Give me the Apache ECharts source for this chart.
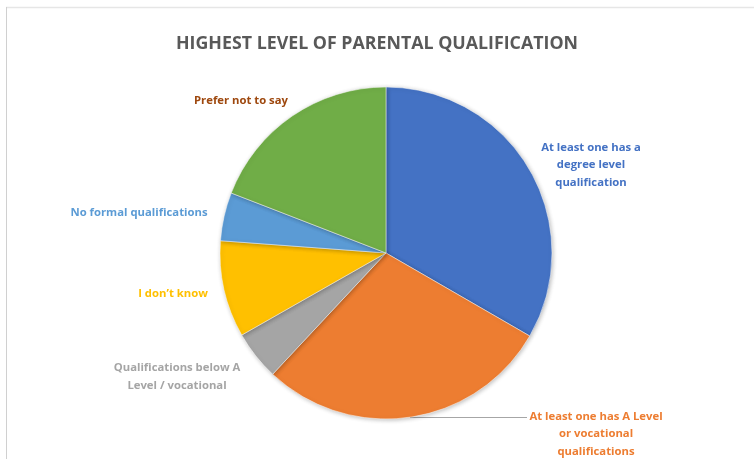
<!DOCTYPE html>
<html>
<head>
<meta charset="utf-8">
<script src="https://cdn.jsdelivr.net/npm/echarts@6/dist/echarts.min.js"></script>
<style>html,body{margin:0;padding:0;background:#fff}#c{width:754px;height:459px}</style>
</head>
<body>
<div id="c"></div>
<script>
const categories = [
  'At least one has a\ndegree level\nqualification',
  'At least one has A Level\nor vocational\nqualifications',
  'Qualifications below A\nLevel / vocational',
  'I don\u2019t know',
  'No formal qualifications',
  'Prefer not to say'
];
const values = [33.3, 28.6, 4.8, 9.4, 4.7, 19.1];
const sliceColors = ['#4472C4', '#ED7D31', '#A5A5A5', '#FFC000', '#5B9BD5', '#70AD47'];
const labelColors = ['#4472C4', '#ED7D31', '#A5A5A5', '#FFC000', '#5B9BD5', '#9E480E'];
const labelPos = [[591, 165], [596, 434], [177, 377], [173, 294], [139, 213], [241, 101]];

const chart = echarts.init(document.getElementById('c'));
chart.setOption({
  backgroundColor: '#fff',
  animation: false,
  title: {
    text: 'HIGHEST LEVEL OF PARENTAL QUALIFICATION',
    left: 'center',
    top: 30,
    textStyle: { fontFamily: 'Open Sans', fontWeight: 'bold', fontSize: 17.8, color: '#595959' }
  },
  graphic: [
    { type: 'line', shape: { x1: 6, y1: 7.5, x2: 754, y2: 7.5 }, style: { stroke: '#e6e6e6', lineWidth: 1.5 } },
    { type: 'line', shape: { x1: 6.5, y1: 7, x2: 6.5, y2: 459 }, style: { stroke: '#d0d0d0', lineWidth: 1 } }
  ],
  series: [{
    type: 'pie',
    center: [386, 253],
    radius: [0, 166],
    startAngle: 90,
    clockwise: true,
    silent: true,
    data: categories.map((n, i) => ({
      name: n,
      value: values[i],
      itemStyle: { color: sliceColors[i] },
      label: { color: labelColors[i] },
      labelLine: { show: i === 1 }
    })),
    itemStyle: { borderColor: '#fff', borderWidth: 0.5, shadowBlur: 4, shadowColor: 'rgba(0,0,0,0.25)', shadowOffsetX: 1, shadowOffsetY: 1 },
    label: {
      show: true,
      position: 'outside',
      formatter: '{b}',
      fontFamily: 'Open Sans',
      fontWeight: 'bold',
      fontSize: 11.3,
      lineHeight: 17.5,
      align: 'center'
    },
    labelLine: { lineStyle: { color: '#a6a6a6', width: 1 }, length: 5, length2: 5 },
    labelLayout: function (p) {
      const pos = labelPos[p.dataIndex];
      const r = { x: pos[0], y: pos[1], align: 'center', verticalAlign: 'middle' };
      if (p.dataIndex === 1) {
        r.labelLinePoints = [[410, 417.5], [410, 417.5], [527, 417.5]];
      }
      return r;
    }
  }]
});
</script>
</body>
</html>
